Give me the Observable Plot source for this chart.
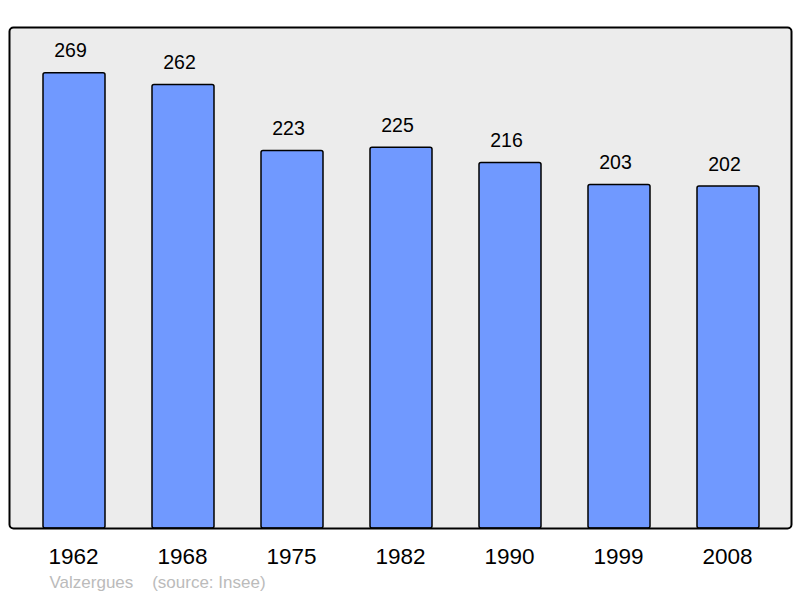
<!DOCTYPE html>
<html>
<head>
<meta charset="utf-8">
<script src="https://cdn.jsdelivr.net/npm/d3@7"></script>
<script src="https://cdn.jsdelivr.net/npm/@observablehq/plot@0.6"></script>
<style>
  html, body { margin: 0; padding: 0; background: #fff; }
  #chart svg { display: block; }
</style>
</head>
<body>
<div id="chart"></div>
<script>
const years = ["1962", "1968", "1975", "1982", "1990", "1999", "2008"];
const population = [269, 262, 223, 225, 216, 203, 202];
const caption = "Valzergues    (source: Insee)";

const data = years.map((y, i) => ({year: y, value: population[i]}));

const chart = Plot.plot({
  width: 800,
  height: 598,
  marginLeft: 9,
  marginRight: 9,
  marginTop: 27,
  marginBottom: 70,
  style: {fontFamily: "Liberation Sans, Arial, sans-serif", background: "#fff"},
  x: {domain: years, range: [9, 793], paddingInner: 0.429, paddingOuter: 0.298, label: null},
  y: {domain: [0, 296], axis: null},
  marks: [
    Plot.frame({fill: "#ececec", stroke: "none", rx: 4}),
    Plot.barY(data, {x: "year", y: "value", fill: "#7099ff", stroke: "#000", strokeWidth: 1.5, rx: 2}),
    Plot.text(data, {x: "year", y: "value", text: d => String(d.value), dx: -4, dy: -22, fontSize: 19.5, fill: "#000"}),
    Plot.frame({fill: "none", stroke: "#000", strokeWidth: 2, rx: 4}),
    Plot.axisX({tickSize: 0, tickPadding: 20, fontSize: 22.5, fill: "#000", label: null, dx: -1}),
    Plot.text([caption], {frameAnchor: "bottom-left", dx: 40, dy: 59, fontSize: 17, fill: "#bbbbbb", textAnchor: "start", text: d => d})
  ]
});
document.getElementById("chart").appendChild(chart);
</script>
</body>
</html>
